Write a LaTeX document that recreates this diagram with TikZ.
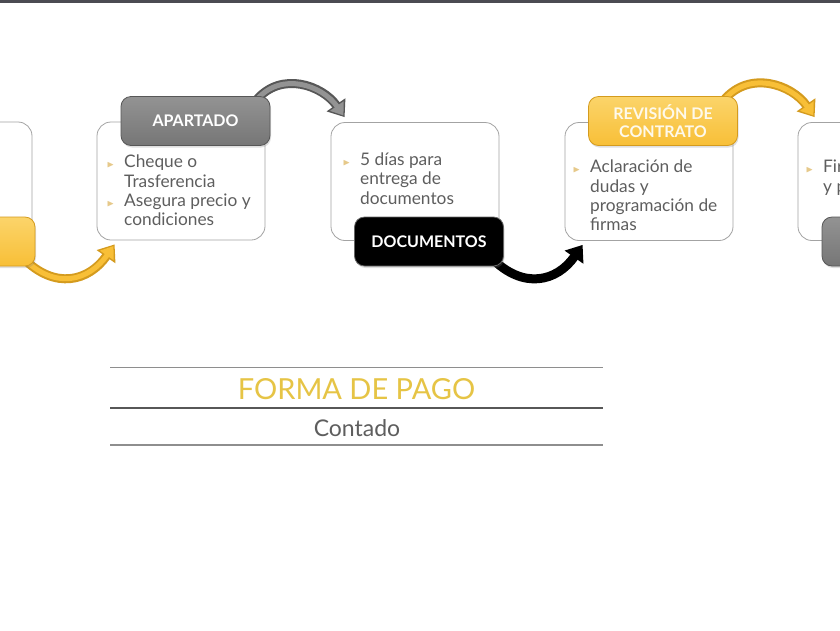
\documentclass[tikz,border=0pt]{standalone}
\usepackage{fontspec}
\setmainfont{Lato}
\usepackage{amssymb}
\usepackage{graphicx}
\usetikzlibrary{arrows.meta,positioning,calc,shadows}
\pgfdeclarelayer{back}
\pgfdeclarelayer{mid}
\pgfsetlayers{back,mid,main}
\definecolor{pcBar}{HTML}{4B4B52}
\definecolor{pcBorder}{HTML}{A3A3A3}
\definecolor{pcText}{HTML}{5E5E5E}
\definecolor{pcBullet}{HTML}{E6C98A}
\definecolor{pcGold}{HTML}{F8BF37}
\definecolor{pcGoldLight}{HTML}{FBD46A}
\definecolor{pcGoldDark}{HTML}{D49B1E}
\definecolor{pcGray}{HTML}{767676}
\definecolor{pcGrayLight}{HTML}{939393}
\definecolor{pcGrayDark}{HTML}{575757}
\definecolor{pcTitle}{HTML}{E6C445}
\definecolor{pcRule}{HTML}{8E8E8E}
\newcommand{\bul}{\llap{\textcolor{pcBullet}{\scalebox{0.55}{$\blacktriangleright$}}\hspace{10pt}}}

\begin{document}
\begin{tikzpicture}[
    x=1pt, y=-1pt,
    box/.style={draw=pcBorder, line width=0.8pt, fill=white, rounded corners=14pt, minimum width=168pt, minimum height=118pt, inner sep=0pt},
    tab/.style={rounded corners=10pt, minimum width=149pt, minimum height=49pt, inner sep=0pt, line width=0.8pt, text=white, font=\fontsize{16}{18}\selectfont\bfseries, align=center, drop shadow={opacity=0.25, shadow xshift=1pt, shadow yshift=-2pt}},
    graytab/.style={tab, draw=pcGrayDark, top color=pcGrayLight, bottom color=pcGray},
    goldtab/.style={tab, draw=pcGoldDark, top color=pcGoldLight, bottom color=pcGold, text=white!90!pcGold},
    blacktab/.style={tab, draw=black!60, fill=black},
    item/.style={anchor=north west, align=left, inner sep=0pt, text=pcText, font=\fontsize{17.3}{19.3}\selectfont},
    tubeout/.style={-{Triangle[length=15pt,width=22pt]}, line width=9pt, color=#1},
    tubein/.style={-{Triangle[length=11.5pt,width=16pt]}, line width=5pt, color=#1, shorten >=2pt},
    rule/.style={draw=pcRule, line width=1.1pt},
  ]
  \useasboundingbox (0,0) rectangle (840,630);
  \clip (0,0) rectangle (840,630);
  \begin{pgfonlayer}{back}
    \fill[white] (0,0) rectangle (840,630);
    \fill[pcBar] (0,0) rectangle (840,3);
    % step boxes
    \node[box] (lftbox) at (-52,181) {};
    \node[box] (apbox) at (181,181) {};
    \node[box] (docbox) at (415,181.5) {};
    \node[box] (revbox) at (649,181.5) {};
    \node[box] (firbox) at (882,181.5) {};
  \end{pgfonlayer}

  \node[item] (apitem) at (124,155) {\bul Cheque o\\Trasferencia\\\bul Asegura precio y\\condiciones};
  \node[item] (docitem) at (360,152.5) {\bul 5 días para\\entrega de\\documentos};
  \node[item] (revitem) at (590,160) {\bul Aclaración de\\dudas y\\programación de\\firmas};
  \node[item] (firitem) at (823,160) {\bul Firma\\y pago};

  % tabs
  \node[goldtab] (lfttab) at (-39.5,241.5) {};
  \node[graytab] (aptab) at (195.5,121) {APARTADO};
  \node[blacktab] (doctab) at (429,241.5) {DOCUMENTOS};
  \node[goldtab] (revtab) at (663,121) {REVISIÓN DE\\CONTRATO};
  \node[graytab] (rgttab) at (896.5,241.5) {};

  % curved arrows, kept under the tabs
  \begin{pgfonlayer}{mid}
    \draw[tubeout=pcGoldDark] ([xshift=-12pt,yshift=8pt]lfttab.south east) to[out=-45, in=-125, looseness=1.25] ([xshift=18pt,yshift=-4pt]apbox.south west);
    \draw[tubein=pcGold] ([xshift=-12pt,yshift=8pt]lfttab.south east) to[out=-45, in=-125, looseness=1.25] ([xshift=18pt,yshift=-4pt]apbox.south west);
    \draw[tubeout=pcGrayDark] ([xshift=-14pt,yshift=-4pt]aptab.north east) to[out=50, in=125, looseness=1.1] ([xshift=14pt,yshift=5pt]docbox.north west);
    \draw[tubein=pcGrayLight] ([xshift=-14pt,yshift=-4pt]aptab.north east) to[out=50, in=125, looseness=1.1] ([xshift=14pt,yshift=5pt]docbox.north west);
    \draw[tubeout=black] ([xshift=-12pt,yshift=8pt]doctab.south east) to[out=-45, in=-125, looseness=1.25] ([xshift=18pt,yshift=-4pt]revbox.south west);
    \draw[tubeout=pcGoldDark] ([xshift=-14pt,yshift=-4pt]revtab.north east) to[out=50, in=125, looseness=1.1] ([xshift=17pt,yshift=5pt]firbox.north west);
    \draw[tubein=pcGold] ([xshift=-14pt,yshift=-4pt]revtab.north east) to[out=50, in=125, looseness=1.1] ([xshift=17pt,yshift=5pt]firbox.north west);
  \end{pgfonlayer}

  % payment
  \draw[rule, line width=0.8pt] (110,367) -- (603,367);
  \node[text=pcTitle, font=\fontsize{29}{32}\selectfont] (pago) at (356.5,389) {FORMA DE PAGO};
  \draw[rule, draw=pcGrayDark, line width=1.5pt] (110,408) -- (603,408);
  \node[text=pcText, font=\fontsize{23}{26}\selectfont] (contado) at (357,428) {Contado};
  \draw[rule] (110,445) -- (603,445);
\end{tikzpicture}
\end{document}
